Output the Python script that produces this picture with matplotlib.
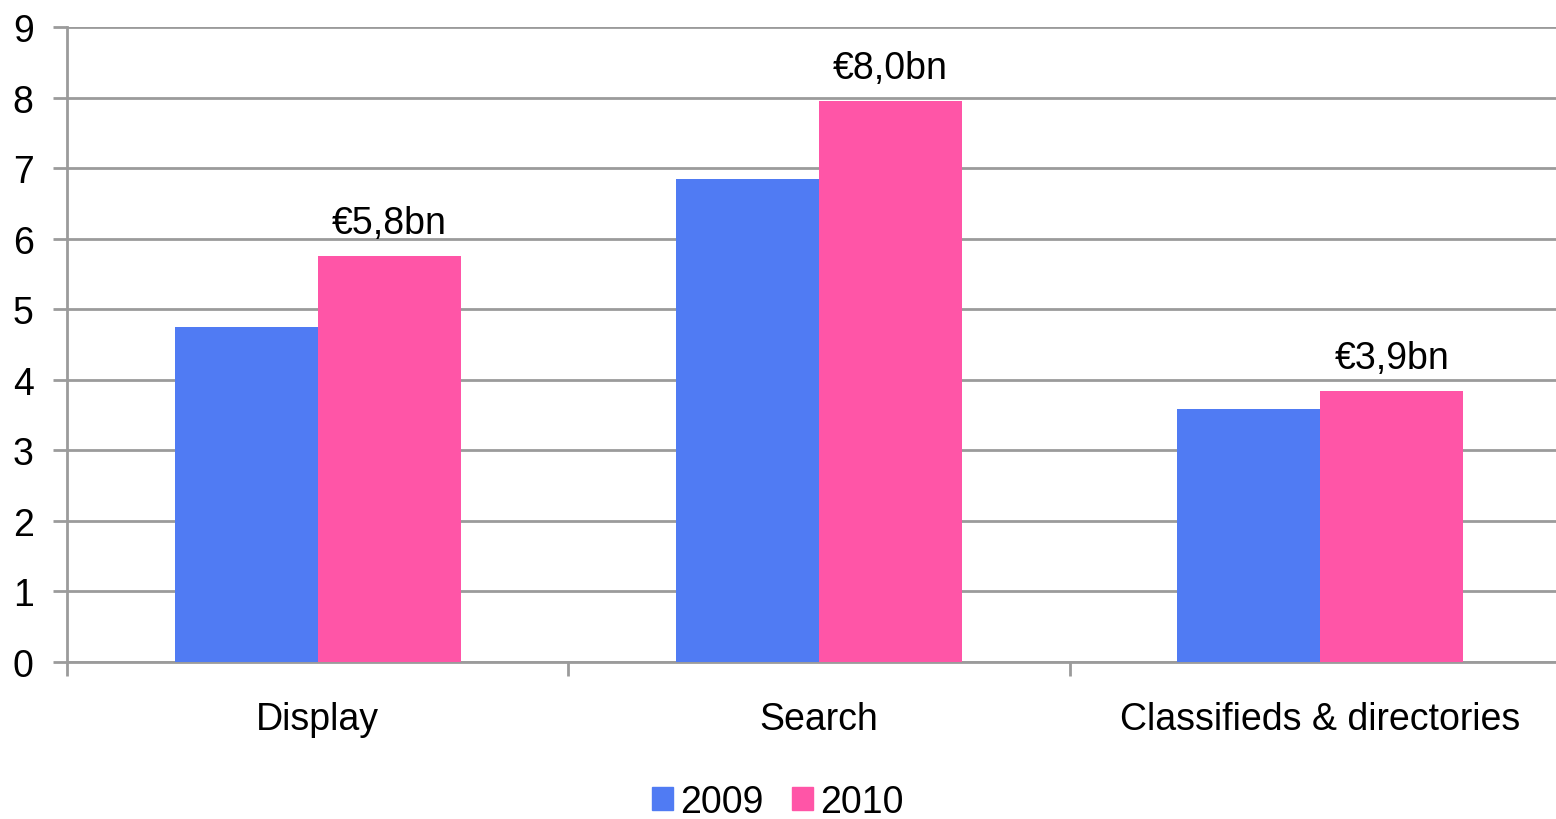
import matplotlib.pyplot as plt
import numpy as np
from matplotlib.patches import Patch

plt.rcParams['font.family'] = ['Liberation Sans', 'DejaVu Sans']

categories = ['Display', 'Search', 'Classifieds & directories']
years = ['2009', '2010']
values_2009 = [4.75, 6.85, 3.59]
values_2010 = [5.75, 7.95, 3.84]
labels_2010 = ['€5,8bn', '€8,0bn', '€3,9bn']

blue = '#507BF3'
pink = '#FF55A7'
grey = '#9B9B9B'

fig = plt.figure(figsize=(15.56, 8.2), dpi=100)
# axes run a bit past the right edge like in the original crop
ax = fig.add_axes([67/1556, 1-663/820, 1504/1556, 635/820])

x = np.arange(len(categories))
w = 0.285
ax.bar(x - w/2, values_2009, w, color=blue, zorder=3)
bars = ax.bar(x + w/2, values_2010, w, color=pink, zorder=3)
for b, lab in zip(bars, labels_2010):
    ax.text(b.get_x() + b.get_width()/2, b.get_height() + 0.22, lab,
            ha='center', va='bottom', fontsize=27)

ax.set_xlim(-0.5, 2.5)
ax.set_ylim(0, 9)
ax.set_yticks(range(10))
ax.yaxis.grid(True, color=grey, lw=2, zorder=0)
ax.set_axisbelow(True)

ax.set_xticks([-0.5, 0.5, 1.5])
ax.set_xticklabels([])
ax.set_xticks(x, minor=True)
ax.set_xticklabels(categories, minor=True, fontsize=27)
ax.tick_params(axis='x', which='minor', length=0, pad=28)
ax.tick_params(axis='x', which='major', length=10, width=2, color=grey)
ax.tick_params(axis='y', length=10, width=2, color=grey, labelsize=27, pad=14)

for s in ['top', 'right']:
    ax.spines[s].set_visible(False)
for s in ['left', 'bottom']:
    ax.spines[s].set_color(grey)
    ax.spines[s].set_linewidth(2)

handles = [Patch(color=blue, label=years[0]), Patch(color=pink, label=years[1])]
fig.legend(handles=handles, loc='center', bbox_to_anchor=(778/1556, 1-803/820),
           ncol=2, frameon=False, fontsize=27, handlelength=0.55, handleheight=0.55,
           handletextpad=0.2, columnspacing=0.75, borderpad=0.2)

fig.savefig('out.png', dpi=100)
